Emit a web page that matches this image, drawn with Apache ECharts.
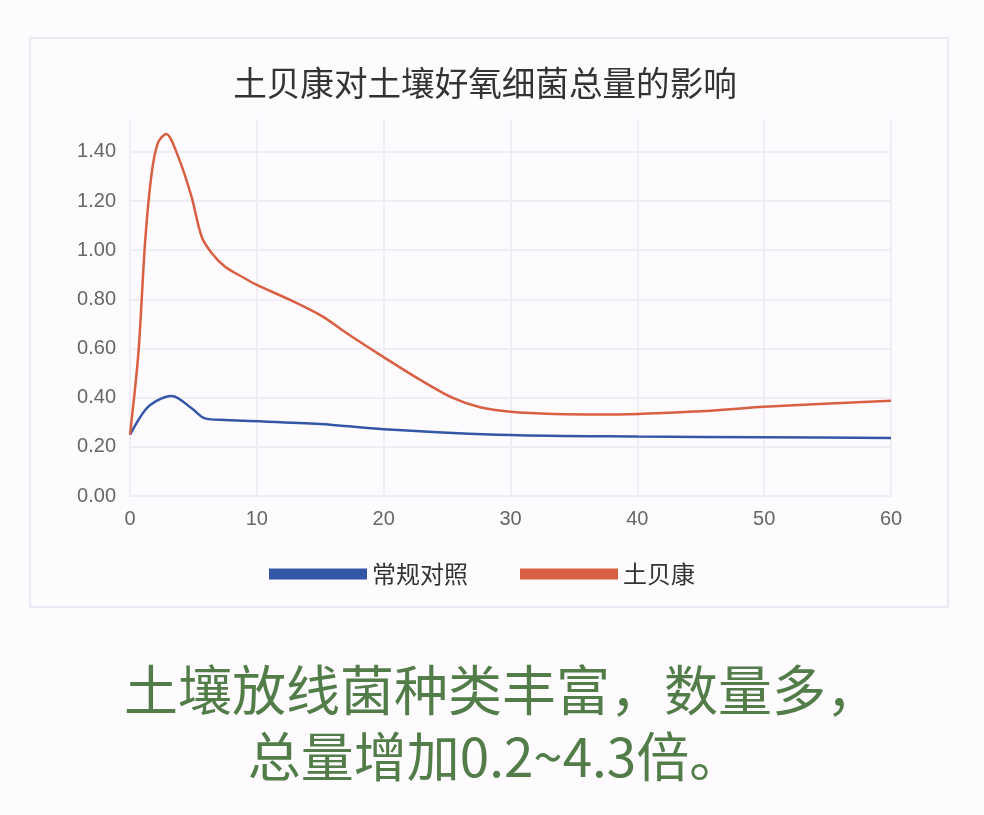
<!DOCTYPE html>
<html><head><meta charset="utf-8">
<script src="https://cdn.jsdelivr.net/npm/echarts@6/dist/echarts.min.js"></script>
<style>html,body{margin:0;padding:0;background:#fdfbfe;}#c{width:984px;height:815px;}</style>
</head><body><div id="c"></div>
<script>
const chartTitle = '土贝康对土壤好氧细菌总量的影响';
const seriesNames = ['常规对照', '土贝康'];
const controlDays = [0, 1.2, 2.2, 3.3, 4.86, 5.9, 7.5, 9, 15, 20, 30, 40, 50, 60];
const controlVals = [0.25, 0.35, 0.39, 0.407, 0.357, 0.316, 0.309, 0.306, 0.293, 0.272, 0.248, 0.242, 0.239, 0.236];
const treatDays = [0, 0.66, 1.2, 1.7, 2.2, 2.85, 3.8, 4.85, 5.65, 6.45, 7.5, 9, 10, 12.9, 15.2, 17.3, 20, 22.9, 25.5, 27.6, 30, 33.4, 38.4, 45, 50, 60];
const treatVals = [0.25, 0.58, 1.04, 1.31, 1.437, 1.473, 1.381, 1.218, 1.055, 0.988, 0.933, 0.887, 0.859, 0.791, 0.73, 0.655, 0.565, 0.472, 0.398, 0.361, 0.343, 0.334, 0.332, 0.345, 0.363, 0.388];
const yTicks = [0, 0.2, 0.4, 0.6, 0.8, 1.0, 1.2, 1.4];
const xTicks = [0, 10, 20, 30, 40, 50, 60];
const captionLines = ['土壤放线菌种类丰富，数量多，', '总量增加0.2~4.3倍。'];

const zip = (a, b) => a.map((x, i) => [x, b[i]]);
const chart = echarts.init(document.getElementById('c'));
const gridColor = '#efedf6';
chart.setOption({
  backgroundColor: '#fdfbfe',
  animation: false,
  title: {
    text: chartTitle, left: 480, top: 61, textAlign: 'center',
    textStyle: {fontSize: 33.6, fontWeight: 'normal', color: '#333', fontFamily: 'Noto Sans CJK SC'}
  },
  graphic: [
    {type: 'rect', shape: {x: 30, y: 38, width: 918, height: 569}, style: {fill: 'none', stroke: '#ebe9f3', lineWidth: 2}, z: -1},
    {type: 'text', x: 502, y: 690, style: {text: captionLines[0], fill: '#527c48', font: '54px "Noto Sans CJK SC"', textAlign: 'center', textVerticalAlign: 'middle'}},
    {type: 'text', x: 495, y: 757, style: {text: captionLines[1], fill: '#527c48', font: '53px "Noto Sans CJK SC"', textAlign: 'center', textVerticalAlign: 'middle'}}
  ],
  legend: {
    left: 264, top: 557, itemWidth: 98, itemHeight: 11, itemGap: 52, icon: 'rect',
    textStyle: {fontSize: 24, color: '#333', fontFamily: 'Noto Sans CJK SC'},
    data: seriesNames
  },
  grid: {left: 130, right: 93, top: 119, bottom: 319, containLabel: false},
  xAxis: {
    type: 'value', min: xTicks[0], max: xTicks[xTicks.length - 1], interval: 10,
    axisLine: {show: true, lineStyle: {color: gridColor, width: 2}},
    axisTick: {show: false},
    axisLabel: {fontSize: 20, color: '#666', margin: 13, fontFamily: 'Liberation Sans'},
    splitLine: {show: true, lineStyle: {color: gridColor, width: 2}}
  },
  yAxis: {
    type: 'value', min: yTicks[0], max: 1.534, interval: 0.2,
    axisLine: {show: false},
    axisTick: {show: false},
    axisLabel: {fontSize: 20, color: '#666', margin: 14, fontFamily: 'Liberation Sans', showMaxLabel: false,
      padding: [3, 0, 0, 0], formatter: v => v.toFixed(2)},
    splitLine: {show: true, showMaxLine: false, lineStyle: {color: gridColor, width: 2}}
  },
  series: [
    {name: seriesNames[0], type: 'line', data: zip(controlDays, controlVals), smooth: 0.3, showSymbol: false,
      itemStyle: {color: '#3456a6'}, lineStyle: {color: '#3456a6', width: 2.5}},
    {name: seriesNames[1], type: 'line', data: zip(treatDays, treatVals), smooth: 0.3, showSymbol: false,
      itemStyle: {color: '#d95f42'}, lineStyle: {color: '#d95f42', width: 2.5}}
  ]
});
</script></body></html>
